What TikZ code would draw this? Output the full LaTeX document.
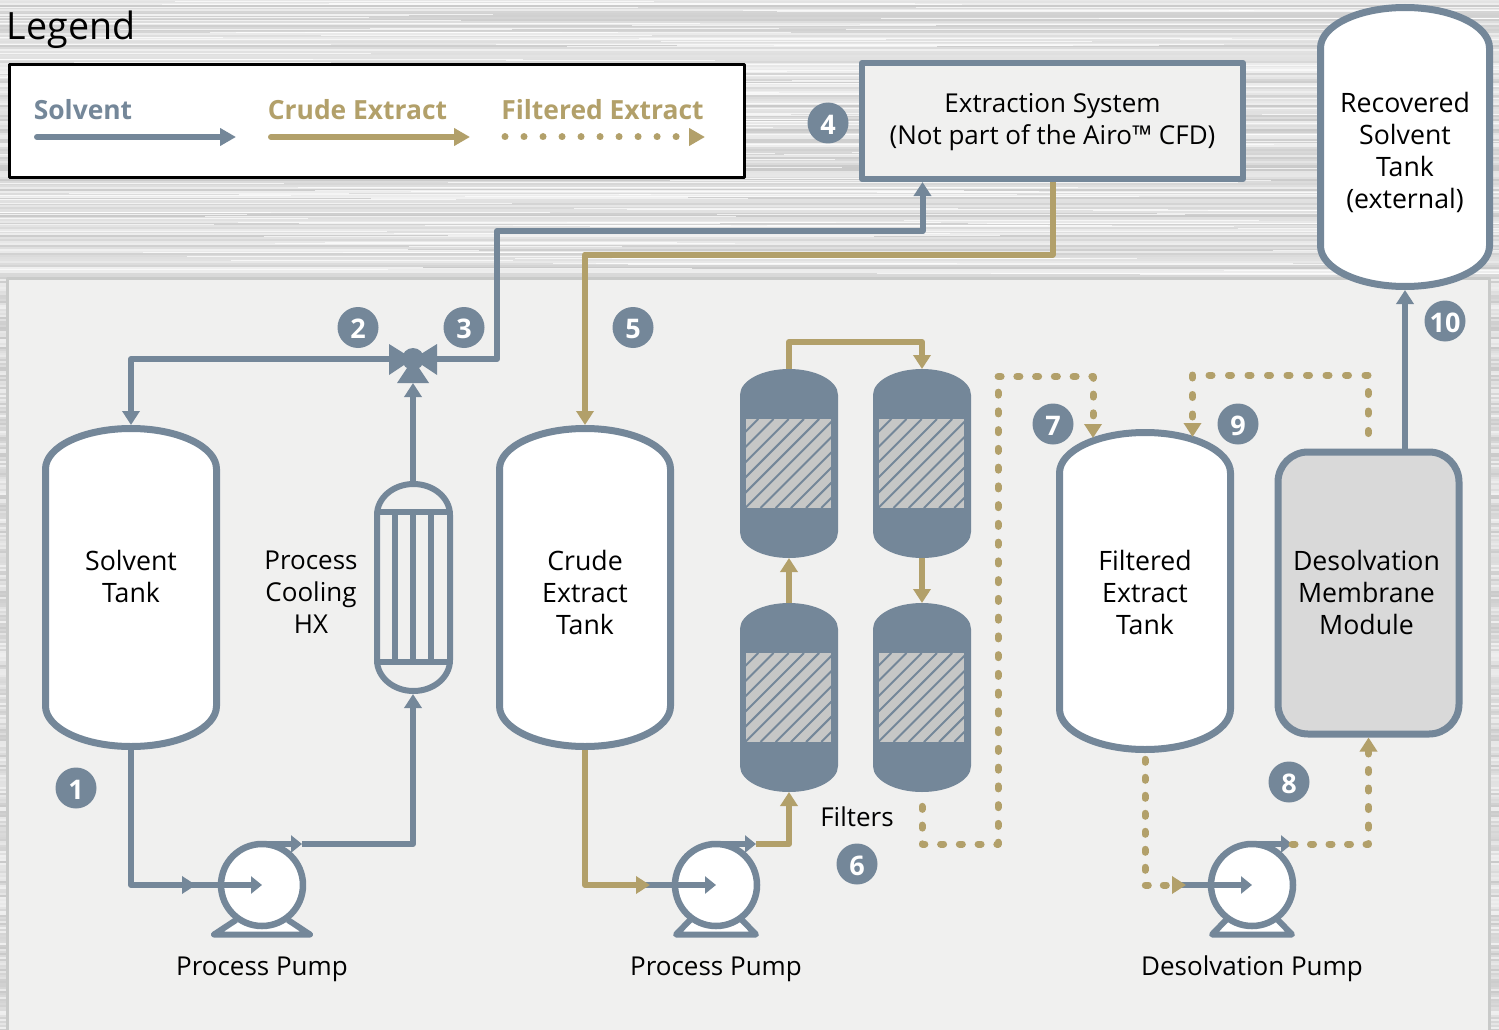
\documentclass[tikz,border=0pt]{standalone}
\usepackage{fontspec}
\setmainfont{Open Sans}
\usetikzlibrary{arrows.meta}
\definecolor{pipeblue}{HTML}{748799}
\definecolor{pipegold}{HTML}{B2A06A}
\definecolor{panelfill}{HTML}{F0F0EF}
\definecolor{panelline}{HTML}{C9CAC9}
\definecolor{hatchfill}{HTML}{C6C7C6}
\definecolor{membfill}{HTML}{D9D9D9}
\tikzset{
	eqtext/.style={align=center,inner sep=0pt,font=\fontsize{26}{32}\selectfont},
	tanktext/.style={eqtext,font=\fontsize{26.7}{32}\selectfont},
	legtext/.style={inner sep=0pt,font=\fontsize{26.4}{32}\selectfont\bfseries},
	badge/.style={circle,fill=pipeblue,text=white,minimum size=41pt,inner sep=0pt,text height=22.5pt,text depth=0pt,font=\fontsize{27}{27}\selectfont\bfseries},
	shapebox/.style={rectangle,inner sep=0pt,outer sep=0pt},
	solventpipe/.style={draw=pipeblue,line width=6pt,line join=round,-{Triangle[width=17pt,length=14pt]}},
	crudepipe/.style={solventpipe,draw=pipegold},
	filterpipe/.style={crudepipe,line width=7pt,line cap=round},
	pumptip/.style={-{Triangle[width=17pt,length=11pt]}},
}
% Tank: name, cx, cy, outer width, outer height
\newcommand{\drawtank}[5]{
	\draw[pipeblue,fill=white,line width=7pt] (#2-#4/2+3.5,#3-#5/2+44) arc[start angle=180,end angle=0,x radius=#4/2*1pt-3.5pt,y radius=40.5pt]
		-- ++(0,#5-88) arc[start angle=0,end angle=-180,x radius=#4/2*1pt-3.5pt,y radius=40.5pt] -- cycle;
	\node[shapebox,minimum width=#4pt,minimum height=#5pt] (#1) at (#2,#3) {};
}
% Filter vessel: name, cx, top
\newcommand{\drawfilter}[3]{
	\fill[pipeblue] (#2-49,#3+26) arc[start angle=180,end angle=0,x radius=49pt,y radius=26pt]
		-- ++(0,137) arc[start angle=0,end angle=-180,x radius=49pt,y radius=26pt] -- cycle;
	\node[shapebox,minimum width=98pt,minimum height=189pt] (#1) at (#2,#3+94.5) {};
	\begin{scope}
		\clip (#2-43,#3+50) rectangle (#2+42,#3+139);
		\fill[hatchfill] (#2-43,#3+50) rectangle (#2+42,#3+139);
		\foreach \k in {-76.7,-61.5,...,85}\draw[pipeblue,line width=2pt] (#2-43+\k,#3+139)--++(89,-89);
	\end{scope}
}
% Pump: name, cx, half width of foot
\newcommand{\drawpump}[3]{
	\draw[pipeblue,fill=white,line width=6pt,miter limit=4] (#2-26,920)--(#2-#3+3,934.5)--(#2+#3-3,934.5)--(#2+26,920);
	\node[circle,draw=pipeblue,fill=white,line width=6.5pt,minimum size=82pt,inner sep=0pt,outer sep=0pt] (#1) at (#2,885) {};
	\coordinate (#1in) at (#2-66,885);
	\coordinate (#1out) at (#2+40,844);
}
\begin{document}
\begin{tikzpicture}[x=1pt,y=-1pt,line join=round]
	\useasboundingbox (0,0) rectangle (1499,1030);
	\clip (0,0) rectangle (1499,1030);
	
	% Brushed background
	\pgfmathsetseed{42}
	\foreach \s in {0,2,...,1030}{
		\pgfmathsetmacro{\lev}{6+15*rnd}
		\draw[black!\lev,line width=2.2pt] (0,\s)--(1499,\s);
	}
	\foreach \s in {1,...,160}{
		\pgfmathsetmacro{\px}{1499*rnd}
		\pgfmathsetmacro{\py}{278*rnd}
		\pgfmathsetmacro{\pl}{100+300*rnd}
		\draw[white,line width=1pt,opacity=0.7] (\px-\pl,\py)--(\px+\pl,\py);
	}
	
	% Panel
	\draw[panelline,fill=panelfill,line width=3pt] (7.5,278.5) rectangle (1489,1040);
	
	% Legend
	\node[inner sep=0pt,font=\fontsize{37.6}{40}\selectfont] (legendtitle) at (71,30) {Legend};
	\node[draw=black,fill=white,line width=3pt,minimum width=735pt,minimum height=112pt,inner sep=0pt] (legendbox) at (376.5,121) {};
	\node[legtext,text=pipeblue] (legsolvent) at (83,110) {Solvent};
	\node[legtext,text=pipegold] (legcrude) at (357.5,110) {Crude Extract};
	\node[legtext,text=pipegold] (legfilter) at (602.5,110) {Filtered Extract};
	\coordinate (legsolventa) at (37,137);
	\coordinate (legsolventb) at (236,137);
	\coordinate (legcrudea) at (271,137);
	\coordinate (legcrudeb) at (470,137);
	\coordinate (legfiltera) at (505,137);
	\coordinate (legfilterb) at (705,137);
	\draw[solventpipe,line cap=round,-{Triangle[width=17pt,length=16pt]}] (legsolventa)--(legsolventb);
	\draw[crudepipe,line cap=round,-{Triangle[width=17pt,length=16pt]}] (legcrudea)--(legcrudeb);
	\draw[crudepipe,line cap=round,line width=7pt,dash pattern=on 0.01pt off 19pt,-{Triangle[width=17pt,length=16pt]}] (legfiltera)--(legfilterb);
	
	% Tanks and boxes
	\drawtank{solvent}{131}{587.5}{178}{325}
	\drawtank{crude}{585}{587.5}{178}{325}
	\drawtank{filtered}{1145}{591}{178}{324}
	\drawtank{recovered}{1405}{147}{176}{286}
	\node[draw=pipeblue,fill=panelfill,line width=6pt,minimum width=381pt,minimum height=116pt,inner sep=0pt] (extraction) at (1052.5,121) {};
	\node[draw=pipeblue,fill=membfill,line width=7pt,rounded corners=30pt,minimum width=181pt,minimum height=282pt,inner sep=0pt] (membrane) at (1368.5,593) {};
	
	% Filters
	\drawfilter{filtera}{789}{369}
	\drawfilter{filterb}{922}{369}
	\drawfilter{filterc}{789}{603}
	\drawfilter{filterd}{922}{603}
	
	% Pumps
	\drawpump{pumpa}{262}{51}
	\drawpump{pumpb}{716}{43}
	\drawpump{pumpc}{1252}{43}
	
	% Heat exchanger
	\node[shapebox,minimum width=79pt,minimum height=213pt] (hx) at (413,587.5) {};
	\draw[pipeblue,line width=6pt] (377,515) arc[start angle=180,end angle=0,x radius=36.5pt,y radius=31pt]
		--(450,660) arc[start angle=0,end angle=-180,x radius=36.5pt,y radius=31pt] -- cycle;
	\draw[pipeblue,line width=6pt] (377,512)--(450,512) (377,662)--(450,662);
	\foreach \x in {395,413,431}\draw[pipeblue,line width=6pt] (\x,512)--(\x,662);
	
	% Valve
	\node[circle,fill=pipeblue,minimum size=22pt,inner sep=0pt] (valve) at (413,359) {};
	\coordinate (valvein) at (413,383);
	
	% Solvent lines
	\draw[solventpipe] (valve.center)-|(solvent.north);
	\draw[solventpipe] (valve.center)--(497,359)--(497,231)-|(922.5,182);
	\draw[solventpipe] (solvent.south)|-(pumpain);
	\draw[solventpipe] (pumpaout)-|(hx.south);
	\draw[solventpipe] (hx.north)--(valvein);
	\coordinate (membtop) at (1405,449);
	\draw[solventpipe] (membtop)--(recovered.south);
	\foreach \p in {pumpa,pumpb,pumpc}{
		\draw[solventpipe,pumptip] ([xshift=-10pt]\p in)--(\p.center);
		\draw[solventpipe,pumptip] (\p.north)--(\p out);
	}
	\fill[pipeblue] (valve.center)--(389,344)--(389,375)--cycle;
	\fill[pipeblue] (valve.center)--(437,344)--(437,375)--cycle;
	\fill[pipeblue] (valve.center)--(397,383)--(429,383)--cycle;
	
	% Crude extract lines
	\coordinate (extractout) at (1052.5,182);
	\draw[crudepipe] (extractout)--(1052.5,254.5)-|(crude.north);
	\draw[crudepipe] (crude.south)|-(pumpbin);
	\draw[crudepipe] (pumpbout)-|(filterc.south);
	\draw[crudepipe] (filterc.north)--(filtera.south);
	\draw[crudepipe] (filtera.north)--(789,342)-|(filterb.north);
	\draw[crudepipe] (filterb.south)--(filterd.north);
	
	% Filtered extract lines
	\coordinate (filteredina) at (1093,438);
	\coordinate (filteredinb) at (1192.5,437);
	\coordinate (membdot) at (1368,449);
	\draw[filterpipe,dash pattern=on 3pt off 15.75pt,dash phase=4.4pt] (filterd.south)--(922,844)--(998,844)--(998,376.5)-|(filteredina);
	\draw[filterpipe,dash pattern=on 3pt off 16.5pt,dash phase=4pt] (membdot)--(1368,375)-|(filteredinb);
	\draw[filterpipe,dash pattern=on 3pt off 15pt,dash phase=11.7pt] (filtered.south)|-(pumpcin);
	\draw[filterpipe,dash pattern=on 3pt off 15.5pt] (pumpcout)-|(membrane.south);
	
	% Labels
	\node[tanktext] (solventtext) at (131,576) {Solvent\\Tank};
	\node[tanktext] (crudetext) at (585,592) {Crude\\Extract\\Tank};
	\node[tanktext] (filteredtext) at (1145,592) {Filtered\\Extract\\Tank};
	\node[tanktext] (recoveredtext) at (1405,152.5) {Recovered\\Solvent\\Tank\\(external)};
	\node[eqtext] (extractiontext) at (1052.5,122) {Extraction System\\(Not part of the Airo™ CFD)};
	\node[tanktext] (membranetext) at (1366.5,592) {Desolvation\\Membrane\\Module};
	\node[eqtext] (hxtext) at (311,592) {Process\\Cooling\\HX};
	\node[eqtext] (filterstext) at (857,817) {Filters};
	\node[eqtext] (pumpatext) at (262,969) {Process Pump};
	\node[eqtext] (pumpbtext) at (716,969) {Process Pump};
	\node[eqtext] (pumpctext) at (1252,969) {Desolvation Pump};
	
	% Numbered marks
	\foreach \n/\px/\py in {1/76/788,2/358/327.5,3/464/327.5,4/828/123,5/633/327.5,6/857/864,7/1053/424,8/1289/782,9/1238/424,10/1445/321}
		\node[badge] (mark\n) at (\px,\py) {\n};
\end{tikzpicture}
\end{document}
